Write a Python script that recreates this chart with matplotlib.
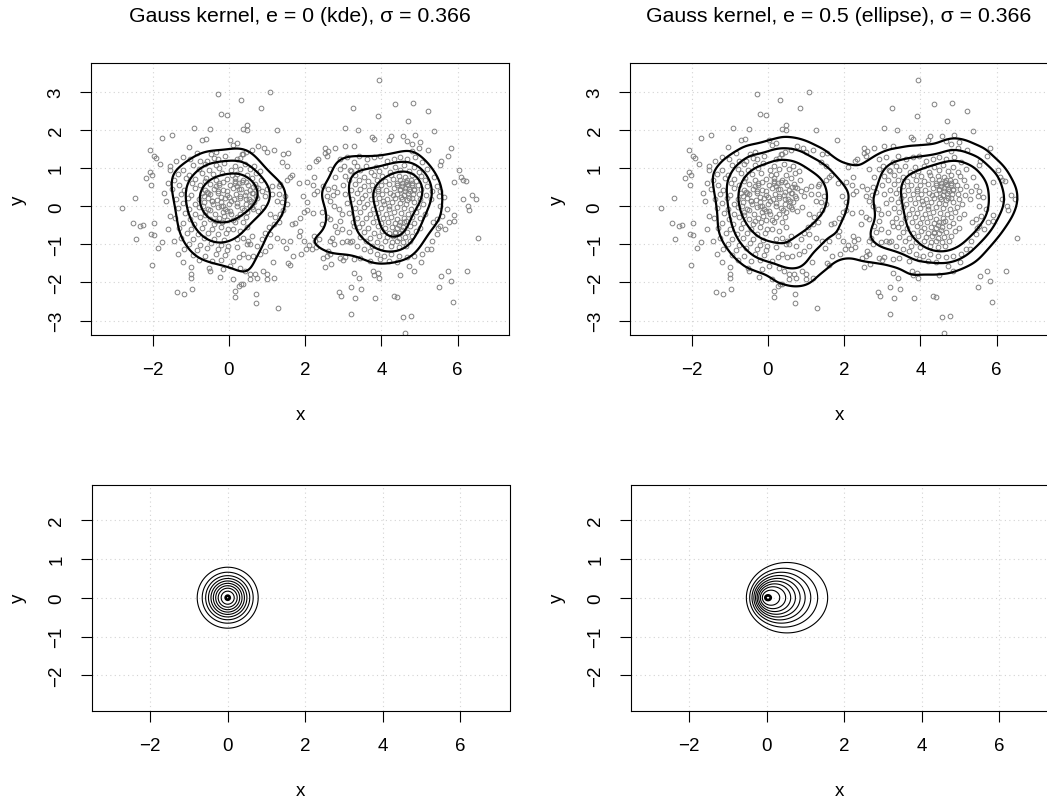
import numpy as np
import matplotlib
matplotlib.use("Agg")
import matplotlib.pyplot as plt

plt.rcParams['font.family'] = ['Liberation Sans', 'DejaVu Sans']

# ---------------------------------------------------------------- data
SIGMA = 0.366
ECCENTRICITIES = [0.0, 0.5]
TITLES = ["Gauss kernel, e = 0 (kde), \u03c3 = 0.366",
          "Gauss kernel, e = 0.5 (ellipse), \u03c3 = 0.366"]
X_TICKS = [-2, 0, 2, 4, 6]
Y_TICKS_TOP = [-3, -2, -1, 0, 1, 2, 3]
Y_TICKS_BOTTOM = [-2, -1, 0, 1, 2]
KERNEL_LEVELS = [0.1, 0.2, 0.3, 0.4, 0.5, 0.6, 0.7, 0.8, 0.9]
HDR_MASSES = [0.62, 0.4, 0.2]

# western cluster, sparse outskirts
west_outer = [
    (-0.30, 2.96), (0.31, 2.80), (1.08, 3.00), (0.83, 2.59), (-0.22, 2.43), (-0.04, 2.39),
    (-0.91, 2.05), (-0.51, 2.04), (0.38, 2.02), (0.48, 2.14), (0.46, 1.99), (1.25, 2.01),
    (-1.75, 1.79), (-1.49, 1.88), (1.82, 1.73), (-0.70, 1.73), (-0.61, 1.76), (0.03, 1.75),
    (0.10, 1.60), (0.22, 1.67), (-1.04, 1.55), (-2.08, 1.49), (-1.96, 1.31), (-1.91, 1.27),
    (-1.81, 1.11), (-1.54, 1.07), (-2.18, 0.75), (-2.08, 0.91), (-2.06, 0.56), (-2.47, 0.21),
    (-2.82, -0.04), (-2.52, -0.44), (-2.34, -0.51), (-2.25, -0.48), (-2.43, -0.87), (-2.06, -0.72),
    (-1.97, -0.76), (-1.96, -0.44), (-1.86, -1.10), (-1.76, -0.95), (-2.01, -1.54), (-1.36, -2.24),
    (-1.19, -2.29), (-0.97, -2.18), (-1.01, -1.78), (-1.01, -1.87), (-0.99, -1.60), (-0.52, -1.61),
    (-0.50, -1.70), (-0.24, -1.86), (-0.15, -1.65), (0.11, -1.91), (0.17, -2.22), (0.25, -2.09),
    (0.31, -2.05), (0.38, -2.04), (0.15, -2.39), (0.71, -2.31), (0.72, -2.54), (1.28, -2.68),
    (0.54, -1.91), (0.73, -1.87), (1.01, -1.78), (1.18, -1.87), (1.15, -1.47), (1.54, -1.49),
    (1.61, -1.53), (1.50, -1.09), (1.68, -1.30), (1.89, -1.25), (1.65, -0.46), (1.73, -0.45),
    (1.87, -0.32), (1.85, 0.60), (1.93, 0.28), (2.06, 0.11), (2.04, 0.65), (2.10, 1.03),
    (1.97, -0.14), (2.06, -0.11), (1.87, -0.64), (1.85, -0.77), (1.96, -0.90), (2.03, -1.12),
    (2.10, -1.01), (1.66, 0.82), (1.56, 1.40), (1.43, 1.38), (1.39, 1.16), (1.17, 1.49),
    (0.91, 1.54), (0.77, 1.58), (0.61, 1.49), (0.44, 1.42), (0.33, 1.38), (-0.11, 1.33),
    (-0.34, 1.42), (-0.48, 1.38), (-0.83, 1.40), (-1.03, 1.25), (-0.76, 1.20), (-0.59, 1.20),
    (-0.39, 1.26), (-0.28, 1.25), (-2.03, 0.82),
    (0.99, 1.42), (1.52, 1.07), (1.61, 0.76), (1.52, 0.70), (1.30, 0.54), (1.34, 0.59),
    (1.12, 0.54), (0.99, 0.46), (0.86, 0.41), (0.95, 0.28), (1.12, 0.32), (1.32, 0.32),
    (1.47, 0.28), (1.25, 0.15), (1.39, 0.10), (1.52, 0.06), (0.38, 1.37), (0.29, 1.28),
    (0.20, 1.24),
    (0.03, -0.12), (0.20, -0.29), (0.29, -0.20), (0.46, -0.16), (0.64, -0.07), (0.77, -0.12),
    (0.90, -0.03), (1.08, -0.20), (1.21, -0.29), (1.34, -0.20), (1.43, -0.11), (1.30, -0.42),
    (1.17, -0.47), (1.04, -0.55), (0.95, -0.69), (1.08, -0.73), (1.25, -0.82), (1.43, -0.90),
    (1.61, -0.90), (1.08, -1.04), (0.95, -1.17), (0.82, -1.26), (0.64, -1.30), (0.51, -1.34),
    (0.38, -1.26), (0.25, -1.34), (0.11, -1.43), (0.03, -1.56), (0.29, -1.61), (0.42, -1.69),
    (0.55, -1.78), (0.68, -1.78), (0.90, -1.69), (0.99, -1.91), (0.20, -0.86), (0.38, -0.82),
    (0.51, -0.90), (0.11, -0.60), (0.29, -0.64), (0.46, -0.55), (0.55, -0.99), (0.20, -1.08),
    (0.46, -0.99), (0.60, -0.77), (0.73, -1.04), (0.86, -0.86), (0.38, -0.42), (0.16, -0.42),
    (-1.60, 0.60), (-1.65, 0.15), (-1.55, -0.25), (-1.60, -0.60), (-1.45, -0.90), (-1.35, -1.25),
    (-1.20, -1.45), (-1.70, 0.35), (-1.55, 0.95), (-1.40, 1.20), (-1.20, 1.30),
]

# western cluster, dense middle
west_core = [
    (-0.95, 1.08), (-0.62, 1.12), (-0.35, 1.09), (-0.12, 1.13), (0.15, 1.07), (0.42, 1.11), (0.66, 1.06),
    (-1.22, 0.95), (-0.78, 0.99), (-0.52, 0.96), (-0.25, 1.00), (0.04, 0.94), (0.30, 0.98), (0.55, 0.97),
    (0.82, 0.93), (-1.35, 0.86), (-1.05, 0.83), (-0.70, 0.87), (-0.42, 0.84), (-0.18, 0.88), (0.08, 0.83),
    (0.22, 0.86), (0.48, 0.82), (0.71, 0.87), (-1.45, 0.70), (-1.12, 0.73), (-0.88, 0.71), (-0.60, 0.74),
    (-0.33, 0.69), (-0.05, 0.72), (0.16, 0.75), (0.38, 0.70), (0.60, 0.73), (0.83, 0.68), (-1.30, 0.57),
    (-0.98, 0.60), (-0.75, 0.56), (-0.50, 0.59), (-0.25, 0.61), (0.02, 0.57), (0.27, 0.60), (0.50, 0.55),
    (0.68, 0.58), (-1.50, 0.46), (-1.18, 0.43), (-0.90, 0.47), (-0.62, 0.44), (-0.40, 0.46), (-0.15, 0.42),
    (0.10, 0.47), (0.32, 0.45), (0.55, 0.43), (0.76, 0.48), (-1.25, 0.33), (-1.00, 0.30), (-0.72, 0.34),
    (-0.50, 0.31), (-0.28, 0.35), (-0.06, 0.30), (0.18, 0.33), (0.41, 0.29), (0.62, 0.34), (-1.40, 0.19),
    (-1.08, 0.22), (-0.80, 0.18), (-0.55, 0.21), (-0.32, 0.17), (-0.10, 0.22), (0.12, 0.19), (0.30, 0.23),
    (0.52, 0.18), (0.74, 0.21), (-1.20, 0.09), (-0.90, 0.06), (-0.65, 0.10), (-0.42, 0.07), (-0.20, 0.11),
    (0.00, 0.05), (0.22, 0.09), (0.45, 0.06), (0.66, 0.10),
    (-1.35, -0.04), (-1.05, -0.07), (-0.78, -0.03), (-0.55, -0.06), (-0.30, -0.02), (-0.10, -0.06),
    (-1.15, -0.17), (-0.88, -0.20), (-0.62, -0.16), (-0.38, -0.19), (-0.15, -0.15),
    (-1.42, -0.30), (-1.02, -0.33), (-0.75, -0.29), (-0.50, -0.34), (-0.25, -0.31), (-0.04, -0.35),
    (-1.20, -0.44), (-0.92, -0.47), (-0.65, -0.43), (-0.40, -0.46), (-0.18, -0.42),
    (-1.30, -0.57), (-1.00, -0.60), (-0.70, -0.56), (-0.45, -0.59), (-0.20, -0.55), (-0.02, -0.60),
    (-1.10, -0.71), (-0.82, -0.74), (-0.55, -0.70), (-0.30, -0.73), (-0.08, -0.69),
    (-1.25, -0.84), (-0.95, -0.87), (-0.65, -0.83), (-0.40, -0.86), (-0.12, -0.88),
    (-1.05, -0.99), (-0.75, -1.02), (-0.48, -0.97), (-0.22, -1.01), (-0.02, -1.03),
    (-1.18, -1.11), (-0.85, -1.14), (-0.58, -1.10), (-0.30, -1.13), (-0.05, -1.16),
    (-0.95, -1.27), (-0.62, -1.30), (-0.35, -1.26), (-0.10, -1.29),
    (-0.80, -1.41), (-0.45, -1.44), (-0.20, -1.40),
    (-0.30, 0.40), (0.00, 0.25), (0.25, 0.45), (0.45, 0.20), (-0.15, 0.00), (0.35, -0.05),
    (0.60, 0.35), (-0.45, 0.15), (0.15, 0.60), (0.05, -0.20), (0.55, 0.00), (-0.25, 0.55),
    (0.35, 0.65), (0.70, 0.50), (-0.55, 0.35),
    (-0.62, 0.66), (-0.15, 0.64), (0.15, 0.67), (0.45, 0.63), (-0.35, 0.53), (0.20, 0.52),
    (0.62, 0.51), (-0.58, 0.38), (-0.05, 0.40), (0.45, 0.38), (-0.65, 0.27), (-0.20, 0.25),
    (0.28, 0.27), (0.70, 0.28), (-0.45, 0.13), (0.05, 0.14), (0.58, 0.13), (-0.68, 0.02),
    (-0.22, 0.00), (0.20, 0.02), (0.60, -0.02), (-0.50, -0.11), (-0.05, -0.12), (0.40, -0.10),
    (-0.62, -0.24), (-0.12, -0.26), (0.45, -0.27), (-0.35, -0.39), (0.10, -0.36),
]

# eastern cluster, sparse outskirts
east_outer = [
    (3.93, 3.31), (3.25, 2.59), (4.37, 2.69), (4.82, 2.72), (5.22, 2.49), (3.90, 2.36),
    (4.71, 2.25), (3.04, 2.05), (3.38, 1.99), (5.37, 1.97), (3.75, 1.82), (3.81, 1.77),
    (4.20, 1.75), (4.26, 1.84), (4.58, 1.85), (4.87, 1.86), (4.68, 1.72), (5.00, 1.70),
    (4.81, 1.64), (2.53, 1.53), (2.60, 1.46), (2.51, 1.39), (2.58, 1.33), (2.33, 1.25),
    (2.28, 1.18), (2.79, 1.53), (3.04, 1.57), (3.27, 1.58), (5.82, 1.54), (5.76, 1.31),
    (5.22, 1.48), (4.99, 1.53), (4.81, 1.46), (5.57, 1.20), (5.54, 1.09), (6.04, 0.94),
    (6.09, 0.76), (6.15, 0.70), (5.90, 0.63), (6.23, 0.66), (6.39, 0.30), (6.47, 0.19),
    (6.15, 0.19), (6.27, 0.02), (6.30, -0.09), (6.54, -0.82), (6.25, -1.69), (5.74, -1.69),
    (5.57, -1.82), (5.83, -1.97), (5.51, -2.11), (5.89, -2.50), (4.77, -2.89), (4.56, -2.90),
    (4.61, -3.32), (4.32, -2.35), (4.41, -2.39), (3.83, -2.42), (3.19, -2.83), (2.90, -2.25),
    (2.94, -2.36), (3.31, -2.40), (3.21, -2.11), (3.46, -2.18), (3.42, -1.89), (3.79, -1.69),
    (3.90, -1.75), (3.94, -1.87), (3.80, -1.81), (3.29, -1.74), (4.48, -1.81), (4.85, -1.71),
    (2.53, -1.60), (2.69, -1.52), (2.46, -1.36), (2.57, -1.30), (2.60, -1.18), (2.92, -1.37),
    (2.99, -1.42), (3.27, -1.39), (3.43, -1.37), (3.71, -1.43), (3.97, -1.39), (4.19, -1.43),
    (4.41, -1.47), (4.72, -1.56), (5.03, -1.46), (5.29, -1.11), (2.29, -1.06), (2.18, -1.12),
    (2.25, -0.90), (2.37, -0.86), (2.22, -0.77), (2.20, -0.18), (2.24, 0.32), (2.32, 0.41),
    (2.20, 0.56), (2.22, 0.76),
    (2.48, 0.54), (2.61, 0.46), (2.75, 0.50), (2.57, 0.28), (2.73, 0.30), (2.83, 0.37),
    (2.66, 0.15), (2.75, 0.02), (2.88, -0.07), (2.96, -0.20), (2.66, -0.33), (2.79, -0.51),
    (2.83, -0.68), (2.70, -0.82), (2.75, -0.99), (2.96, -0.95), (3.10, -0.90), (3.18, -0.95),
    (3.14, -0.68), (3.27, -0.51),
    (2.92, 1.25), (3.10, 1.29), (3.27, 1.16), (3.40, 1.33), (3.61, 1.25), (3.80, 1.29),
    (3.97, 1.33), (4.15, 1.20), (4.32, 1.25), (4.50, 1.29), (4.68, 1.25), (4.87, 1.29),
    (5.07, 1.16), (5.20, 0.98), (5.38, 0.76), (5.46, 0.54), (5.51, 0.28), (5.55, 0.02),
    (5.60, -0.25), (5.55, -0.51), (5.46, -0.73), (5.33, -0.90), (5.20, -1.12), (5.07, -1.25),
    (4.85, -1.30), (4.68, -1.34), (4.46, -1.30), (4.24, -1.25), (4.06, -1.30), (3.89, -1.25),
    (3.71, -1.17), (3.54, -1.12), (3.36, -1.04), (3.23, -0.90), (2.92, 0.98), (2.79, 0.76),
    (2.66, 0.98), (3.01, 1.07), (3.18, 0.94), (5.46, -0.33), (5.68, -0.60), (5.77, -0.42),
    (5.73, -0.07), (5.64, 0.24), (5.55, 0.41), (5.33, 0.41), (5.29, 0.19),
    (2.44, -0.16), (2.66, -0.90), (2.92, -0.38), (2.96, -0.60), (2.57, -0.29),
    (2.44, -0.46), (2.66, -1.26), (3.05, -1.34),
    (5.35, -0.42), (5.48, -0.57), (5.90, -0.38), (5.90, -0.23),
]

# eastern cluster, dense middle
east_core = [
    (3.35, 1.05), (3.60, 1.07), (3.85, 1.03), (4.10, 1.06), (4.35, 1.04), (4.60, 1.08), (4.85, 1.02),
    (3.20, 0.92), (3.45, 0.94), (3.72, 0.90), (3.95, 0.93), (4.22, 0.91), (4.48, 0.95), (4.72, 0.92),
    (4.98, 0.89), (3.05, 0.80), (3.30, 0.82), (3.55, 0.78), (3.80, 0.81), (4.02, 0.79), (4.25, 0.83),
    (4.45, 0.80), (4.62, 0.77), (4.80, 0.82), (5.05, 0.79), (3.15, 0.68), (3.42, 0.70), (3.65, 0.66),
    (3.88, 0.69), (4.10, 0.67), (4.30, 0.71), (4.50, 0.68), (4.65, 0.65), (4.78, 0.70), (4.92, 0.67),
    (5.15, 0.69), (3.00, 0.56), (3.30, 0.58), (3.55, 0.54), (3.75, 0.57), (3.98, 0.55), (4.20, 0.59),
    (4.40, 0.56), (4.55, 0.53), (4.68, 0.58), (4.80, 0.55), (4.95, 0.57), (5.20, 0.54), (3.20, 0.44),
    (3.45, 0.46), (3.68, 0.42), (3.90, 0.45), (4.12, 0.43), (4.32, 0.47), (4.50, 0.44), (4.62, 0.41),
    (4.72, 0.46), (4.85, 0.43), (5.05, 0.45), (3.05, 0.32), (3.35, 0.34), (3.58, 0.30), (3.80, 0.33),
    (4.02, 0.31), (4.22, 0.35), (4.42, 0.32), (4.60, 0.29), (4.70, 0.34), (4.82, 0.31), (4.98, 0.33),
    (5.18, 0.30), (3.22, 0.20), (3.50, 0.22), (3.72, 0.18), (3.95, 0.21), (4.15, 0.19), (4.35, 0.23),
    (4.55, 0.20), (4.68, 0.17), (4.80, 0.22), (5.00, 0.19), (3.10, 0.08), (3.40, 0.10), (3.62, 0.06),
    (3.85, 0.09), (4.08, 0.07), (4.28, 0.11), (4.48, 0.08), (4.65, 0.05), (4.85, 0.10), (5.10, 0.07),
    (3.30, -0.05), (3.55, -0.03), (3.78, -0.07), (4.00, -0.04), (4.20, -0.06), (4.40, -0.02),
    (4.60, -0.05), (4.78, -0.08), (4.95, -0.03), (3.15, -0.18), (3.45, -0.16), (3.70, -0.20),
    (3.92, -0.17), (4.12, -0.19), (4.32, -0.15), (4.52, -0.18), (4.70, -0.21), (4.90, -0.16),
    (5.15, -0.19), (3.35, -0.30), (3.60, -0.32), (3.85, -0.28), (4.05, -0.31), (4.25, -0.29),
    (4.42, -0.33), (4.60, -0.30), (4.80, -0.27), (5.00, -0.31), (3.25, -0.42), (3.50, -0.44),
    (3.78, -0.40), (4.00, -0.43), (4.18, -0.41), (4.35, -0.45), (4.50, -0.42), (4.65, -0.39),
    (4.85, -0.44), (3.40, -0.55), (3.65, -0.57), (3.90, -0.53), (4.10, -0.56), (4.28, -0.54),
    (4.42, -0.58), (4.58, -0.55), (4.75, -0.52), (5.00, -0.57), (3.55, -0.68), (3.80, -0.70),
    (4.02, -0.66), (4.20, -0.69), (4.35, -0.67), (4.50, -0.71), (4.68, -0.68), (4.90, -0.65),
    (3.45, -0.80), (3.70, -0.82), (3.95, -0.78), (4.15, -0.81), (4.30, -0.79), (4.45, -0.83),
    (4.62, -0.80), (4.80, -0.77), (3.60, -0.92), (3.88, -0.94), (4.10, -0.90), (4.28, -0.93),
    (4.42, -0.91), (4.58, -0.95), (4.75, -0.92), (3.75, -1.05), (4.00, -1.07), (4.25, -1.03),
    (4.45, -1.06), (4.65, -1.04),
    (4.55, 0.62), (4.62, 0.48), (4.70, 0.55), (4.75, 0.40), (4.60, 0.30), (4.50, 0.45),
    (4.68, 0.70), (4.80, 0.60), (4.52, 0.25), (4.72, 0.22), (4.40, 0.60), (4.85, 0.45),
    (4.45, -0.50), (4.55, -0.62), (4.35, -0.70), (4.60, -0.40), (4.20, 0.00), (4.05, 0.15),
    (4.30, 0.30), (3.90, 0.40),
]

# ---------------------------------------------------------------- helpers
FIG_W, FIG_H = 1047, 803
TICK_SIZE = 13.5
TITLE_SIZE = 15.3


def ellipse_kernel(dx, dy, e, sigma=SIGMA):
    """Gaussian in the focal distance r - e*x: contours are ellipses with a focus at 0."""
    rho = np.hypot(dx, dy) - e * dx
    return np.exp(-rho ** 2 / (2.0 * sigma ** 2))


def density(gx, gy, px, py, e):
    z = np.zeros_like(gx)
    for xi, yi in zip(px, py):
        z += ellipse_kernel(gx - xi, gy - yi, e)
    return z


def hdr_levels(z, masses):
    flat = np.sort(z.ravel())[::-1]
    cum = np.cumsum(flat) / flat.sum()
    return sorted(flat[np.searchsorted(cum, m)] for m in masses)


def make_axes(fig, box, xlim, ylim):
    x0, y0, x1, y1 = box
    ax = fig.add_axes([x0 / FIG_W, 1 - y1 / FIG_H, (x1 - x0) / FIG_W, (y1 - y0) / FIG_H])
    ax.set_xlim(*xlim)
    ax.set_ylim(*ylim)
    for s in ax.spines.values():
        s.set_linewidth(0.8)
        s.set_color('black')
    ax.tick_params(direction='out', length=7.9, width=0.8, pad=11.0,
                   labelsize=TICK_SIZE, colors='black')
    ax.grid(True, color='#d3d3d3', linestyle=(0, (1, 3)), linewidth=0.8)
    ax.set_axisbelow(True)
    return ax


def style_axis_labels(fig, ax, box, yticks):
    x0, y0, x1, y1 = box
    ax.set_xticks(X_TICKS)
    ax.set_yticks(yticks)
    for lab in ax.get_yticklabels():
        lab.set_rotation(90)
        lab.set_va('center')
    fig.text((x0 + x1) / 2 / FIG_W, 1 - (y1 + 80) / FIG_H, 'x',
             ha='center', va='center', fontsize=TICK_SIZE)
    fig.text((x0 - 73) / FIG_W, 1 - (y0 + y1) / 2 / FIG_H, 'y',
             ha='center', va='center', fontsize=TICK_SIZE, rotation=90)


# ---------------------------------------------------------------- figure
fig = plt.figure(figsize=(FIG_W / 100, FIG_H / 100), dpi=100)

pts = west_outer + west_core + east_outer + east_core
pts_x = np.array([p[0] for p in pts])
pts_y = np.array([p[1] for p in pts])

top_boxes = [(91, 64, 509, 336), (630, 64, 1048, 336)]
top_xlim = (-3.622, 7.349)
top_ylim = (-3.378, 3.761)
bottom_boxes = [(91.7, 485.7, 509.5, 711.7), (630.7, 485.7, 1048.5, 711.7)]
bottom_xlim = (-3.505, 7.263)
bottom_ylim = (-2.912, 2.912)

gx, gy = np.meshgrid(np.linspace(top_xlim[0], top_xlim[1], 330),
                     np.linspace(top_ylim[0], top_ylim[1], 220))
dens = [density(gx, gy, pts_x, pts_y, e) for e in ECCENTRICITIES]
levels = hdr_levels(dens[0], HDR_MASSES)

for k, e in enumerate(ECCENTRICITIES):
    box = top_boxes[k]
    ax = make_axes(fig, box, top_xlim, top_ylim)
    ax.plot(pts_x, pts_y, 'o', mfc='none', mec='#808080', ms=3.4, mew=0.7, zorder=2)
    ax.contour(gx, gy, dens[k], levels=levels, colors='black', linewidths=1.6, zorder=3)
    style_axis_labels(fig, ax, box, Y_TICKS_TOP)
    fig.text((box[0] + box[2]) / 2 / FIG_W, 1 - 16 / FIG_H, TITLES[k],
             ha='center', va='center', fontsize=TITLE_SIZE)

kx, ky = np.meshgrid(np.linspace(bottom_xlim[0], bottom_xlim[1], 700),
                     np.linspace(bottom_ylim[0], bottom_ylim[1], 400))
for k, e in enumerate(ECCENTRICITIES):
    box = bottom_boxes[k]
    ax = make_axes(fig, box, bottom_xlim, bottom_ylim)
    kz = ellipse_kernel(kx, ky, e)
    ax.contour(kx, ky, kz, levels=KERNEL_LEVELS, colors='black', linewidths=0.8)
    ax.contour(kx, ky, kz, levels=[0.99], colors='black', linewidths=2.0)
    style_axis_labels(fig, ax, box, Y_TICKS_BOTTOM)

fig.savefig('out.png', dpi=100)
